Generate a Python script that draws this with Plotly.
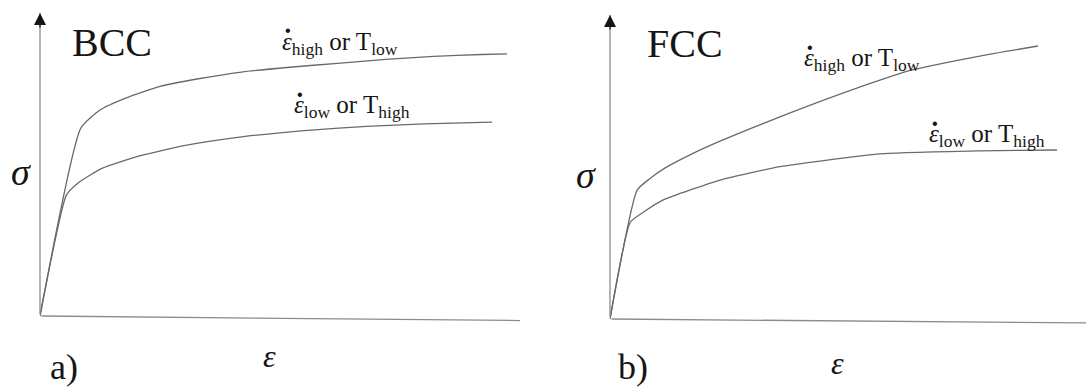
import plotly.graph_objects as go

# ---- stress-strain curves (arbitrary units, origin at 0,0) ----
# a) BCC
strain_bcc_high = [0, 0.085, 0.125, 0.18, 0.25, 0.33, 0.42, 0.52, 0.62, 0.72, 0.82, 0.92, 0.973]
stress_bcc_high = [0, 0.620, 0.680, 0.720, 0.758, 0.783, 0.805, 0.821, 0.834, 0.847, 0.857, 0.863, 0.865]
strain_bcc_low = [0, 0.055, 0.08, 0.13, 0.20, 0.30, 0.42, 0.55, 0.68, 0.80, 0.942]
stress_bcc_low = [0, 0.399, 0.440, 0.488, 0.525, 0.562, 0.591, 0.612, 0.626, 0.634, 0.640]

# b) FCC
strain_fcc_high = [0, 0.057, 0.084, 0.116, 0.168, 0.231, 0.357, 0.498, 0.637, 0.777, 0.899]
stress_fcc_high = [0, 0.424, 0.462, 0.497, 0.540, 0.585, 0.665, 0.748, 0.820, 0.865, 0.898]
strain_fcc_low = [0, 0.043, 0.0735, 0.111, 0.231, 0.357, 0.567, 0.777, 0.939]
stress_fcc_low = [0, 0.319, 0.355, 0.391, 0.457, 0.501, 0.543, 0.553, 0.556]

panel_titles = ["BCC", "FCC"]
panel_letters = ["a)", "b)"]
label_high = "<i>ε</i><sub>high</sub> or T<sub>low</sub>"
label_low = "<i>ε</i><sub>low</sub> or T<sub>high</sub>"

W, H = 1086, 389
SERIF = "Liberation Serif"
CURVE = "#6a6a6a"
AXIS = "#8c8c8c"
INK = "#151515"

fig = go.Figure()

def curve(x, y, xa, ya):
    fig.add_trace(go.Scatter(
        x=x, y=y, xaxis=xa, yaxis=ya, mode="lines",
        line=dict(color=CURVE, width=1.3, shape="spline", smoothing=0.5),
        cliponaxis=False, showlegend=False, hoverinfo="skip"))

curve(strain_bcc_high, stress_bcc_high, "x", "y")
curve(strain_bcc_low, stress_bcc_low, "x", "y")
curve(strain_fcc_high, stress_fcc_high, "x2", "y2")
curve(strain_fcc_low, stress_fcc_low, "x2", "y2")

# axis domains (page fractions)
ax_common = dict(visible=False, range=[0, 1], showgrid=False, zeroline=False, fixedrange=True)
fig.update_layout(
    xaxis=dict(domain=[40 / W, 520 / W], **ax_common),
    yaxis=dict(domain=[(H - 316) / H, (H - 13) / H], anchor="x", **ax_common),
    xaxis2=dict(domain=[610 / W, 1.0], anchor="y2", **ax_common),
    yaxis2=dict(domain=[(H - 319) / H, (H - 15) / H], anchor="x2", **ax_common),
)

ann = []

def axis_arrow(xr, yr, x_end, y_end, hx, hy):
    # grey shaft from origin to the tip
    ann.append(dict(xref=xr, yref=yr, axref=xr, ayref=yr, x=x_end, y=y_end, ax=0, ay=0,
                    showarrow=True, arrowhead=0, arrowwidth=1.3, arrowcolor=AXIS, text=""))
    # black filled head
    ann.append(dict(xref=xr, yref=yr, x=x_end, y=y_end, ax=hx, ay=hy, text="",
                    showarrow=True, arrowhead=2, arrowsize=2.0, arrowwidth=1.2,
                    arrowcolor=INK))

axis_arrow("x", "y", 0, 1, 0, 16)
axis_arrow("x", "y", 1, -0.015, -16, 0)
axis_arrow("x2", "y2", 0, 1, 0, 16)
axis_arrow("x2", "y2", 1, -0.013, -16, 0)

def text(xr, yr, x, y, s, size, xanchor="left", yanchor="middle", xshift=0, yshift=0):
    ann.append(dict(xref=xr, yref=yr, x=x, y=y, text=s, showarrow=False,
                    xanchor=xanchor, yanchor=yanchor, xshift=xshift, yshift=yshift,
                    font=dict(family=SERIF, size=size, color=INK)))

def rate_label(xr, yr, x, y, s):
    text(xr, yr, x, y, s, 25)
    # dot over the strain-rate symbol
    text(xr, yr, x, y, "<b>˙</b>", 29, xshift=1, yshift=4)

# curve labels
rate_label("x", "y", 0.5, 0.901, label_high)
rate_label("x", "y", 0.525, 0.690, label_low)
rate_label("x2", "y2", 0.403, 0.852, label_high)
rate_label("x2", "y2", 0.666, 0.602, label_low)

# panel titles
text("x", "y", 0.0625, 0.904, panel_titles[0], 40)
text("x2", "y2", 0.0735, 0.905, panel_titles[1], 40)

# axis symbols and panel letters (page coordinates)
text("paper", "paper", 21 / W, 1 - 172 / H, "<i>σ</i>", 38, xanchor="center")
text("paper", "paper", 586 / W, 1 - 175 / H, "<i>σ</i>", 38, xanchor="center")
text("paper", "paper", 269 / W, 1 - 356 / H, "<i>ε</i>", 32, xanchor="center")
text("paper", "paper", 837 / W, 1 - 363 / H, "<i>ε</i>", 32, xanchor="center")
text("paper", "paper", 48 / W, 0, panel_letters[0], 36, yanchor="bottom")
text("paper", "paper", 616 / W, 0, panel_letters[1], 36, yanchor="bottom")

fig.update_layout(
    width=W, height=H, margin=dict(l=0, r=0, t=0, b=0),
    paper_bgcolor="white", plot_bgcolor="white",
    annotations=ann, showlegend=False,
)

fig.write_html("out.html", config={"displayModeBar": False})
